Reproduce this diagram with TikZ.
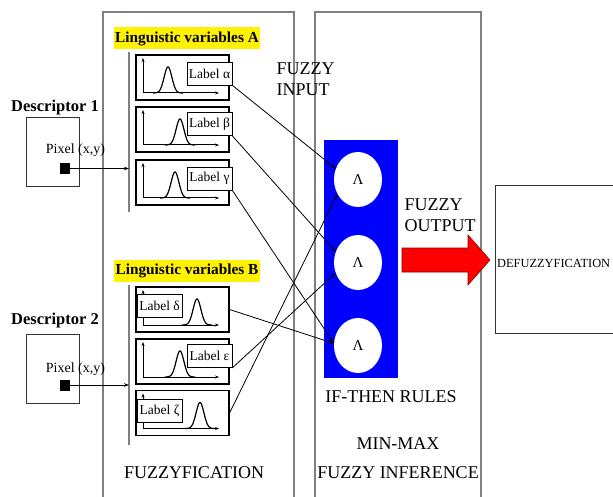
\documentclass[tikz,border=0pt]{standalone}
\usepackage{fontspec}
\setmainfont{Liberation Serif}
\usetikzlibrary{shapes.geometric,arrows.meta}
\begin{document}
\begin{tikzpicture}[x=1pt,y=-1pt,
  frame/.style={draw=black!50, line width=1.1pt},
  dbox/.style={draw=black!80, line width=0.8pt, minimum width=53pt, minimum height=69pt, inner sep=0pt},
  sq/.style={fill=black, minimum width=10pt, minimum height=11pt, inner sep=0pt},
  mfbox/.style={draw=black, line width=1.1pt, minimum width=93pt, minimum height=45pt, inner sep=0pt},
  lbl/.style={draw=black, line width=0.7pt, fill=white, minimum width=45pt, minimum height=23pt, inner sep=0pt, font=\fontsize{13.5}{13.5}\selectfont},
  rulenode/.style={ellipse, fill=white, minimum width=48pt, minimum height=55pt, inner sep=0pt, font=\fontsize{15}{15}\selectfont},
  conn/.style={line width=0.8pt, -{Stealth[length=5pt,width=3.5pt]}},
  axisline/.style={line width=1pt, {Stealth[length=4pt,width=3pt]}-{Stealth[length=4pt,width=3pt]}},
  bell/.style={line width=1.2pt},
  lv/.style={fill=yellow, inner sep=1.5pt, minimum height=22pt, font=\bfseries\fontsize{15.3}{15.3}\selectfont},
  desc/.style={anchor=base, font=\bfseries\fontsize{16.5}{16.5}\selectfont},
  pix/.style={anchor=base, font=\fontsize{14}{14}\selectfont},
  big/.style={font=\fontsize{18}{18}\selectfont}
]
\useasboundingbox (0,0) rectangle (613,497);
\clip (0,0) rectangle (613,497);

% big frames
\draw[frame] (103,505) -- (103,12) -- (294,12) -- (294,505);
\draw[frame] (315,505) -- (315,12) -- (481,12) -- (481,505);
\draw[frame] (129,52) -- (129,212);
\draw[frame] (129,285) -- (129,445);

% linguistic variable headers
\node[lv] (lvA) at (187,38.5) {Linguistic variables A};
\node[lv] (lvB) at (187,271) {Linguistic variables B};

% descriptors
\node[desc] (t1) at (55,112) {Descriptor 1};
\node[desc] (t2) at (55,324) {Descriptor 2};
\node[dbox] (d1) at (52.5,151.5) {};
\node[dbox] (d2) at (52.5,368.5) {};
\node[pix] (p1) at (75.5,154) {Pixel (x,y)};
\node[pix] (p2) at (75.5,372) {Pixel (x,y)};
\node[sq] (s1) at (65,168.5) {};
\node[sq] (s2) at (65,385) {};
\coordinate (in1) at (129,168.5);
\coordinate (in2) at (129,385);
\draw[conn] (s1.east) -- (in1);
\draw[conn] (s2.east) -- (in2);

% membership function boxes
\node[mfbox] (a1) at (182.5,77.5) {};
\node[mfbox] (a2) at (182.5,129.5) {};
\node[mfbox] (a3) at (182.5,182.5) {};
\node[mfbox] (b1) at (182.5,309.5) {};
\node[mfbox] (b2) at (182.5,361.5) {};
\node[mfbox] (b3) at (182.5,413) {};

\foreach \t in {55,107,160,287,339,390.5}{
  \draw[axisline] (143,\t+3) -- (143,\t+38) -- (219,\t+38);
}
\foreach \c/\b in {168/93,180/145,175/198,197/325,180/377,200/428.5}{
  \draw[bell] plot[domain=-15:15,samples=60,smooth] ({\c+\x},{\b-26*exp(0-(\x/5.5)*(\x/5.5))});
}

\node[lbl] (la) at (209.5,73.5) {Label α};
\node[lbl] (lb) at (209.5,124) {Label β};
\node[lbl] (lg) at (209.5,178.5) {Label γ};
\node[lbl] (ld) at (159.5,306) {Label δ};
\node[lbl] (le) at (209.5,356) {Label ε};
\node[lbl] (lz) at (159.5,411) {Label ζ};

% fuzzy input / output labels
\node[big, anchor=base west] (fi1) at (273,75) {FUZZY};
\node[big, anchor=base west] (fi2) at (273,96) {INPUT};
\node[big, anchor=base west] (fo1) at (401,211) {FUZZY};
\node[big, anchor=base west] (fo2) at (401,232) {OUTPUT};

% rule block
\fill[blue] (324,140) rectangle (398,378);
\node[rulenode] (c1) at (358,179.5) {Λ};
\node[rulenode] (c2) at (358,262.5) {Λ};
\node[rulenode] (c3) at (358,345.5) {Λ};

% red output arrow
\draw[fill=red, draw=red!55!black, line width=0.6pt]
  (402,248) -- (468,248) -- (468,235) -- (490,260) -- (468,285) -- (468,272) -- (402,272) -- cycle;

% defuzzification
\draw[draw=black!80, line width=0.8pt] (495,185) rectangle (640,333);
\node[anchor=base west, inner sep=0pt, font=\fontsize{12.4}{12.4}\selectfont] (df) at (497,267) {DEFUZZYFICATION};

% bottom labels
\node[big, anchor=base] (ift) at (391,402) {IF-THEN RULES};
\node[big, anchor=base] (mm) at (398,449) {MIN-MAX};
\node[big, anchor=base] (fin) at (398,478) {FUZZY INFERENCE};
\node[big, anchor=base] (ffn) at (194,478) {FUZZYFICATION};

% connectors
\draw[conn] (la.south east) -- (c1.154);
\draw[conn] (lb.south east) -- (c2.154);
\draw[conn] (lg.south east) -- (c3.175);
\draw[conn] (b1.east) -- (c3.175);
\draw[conn] (le.south east) -- (c2.205);
\draw[conn] (b3.east) -- (c1.215);
\end{tikzpicture}
\end{document}
